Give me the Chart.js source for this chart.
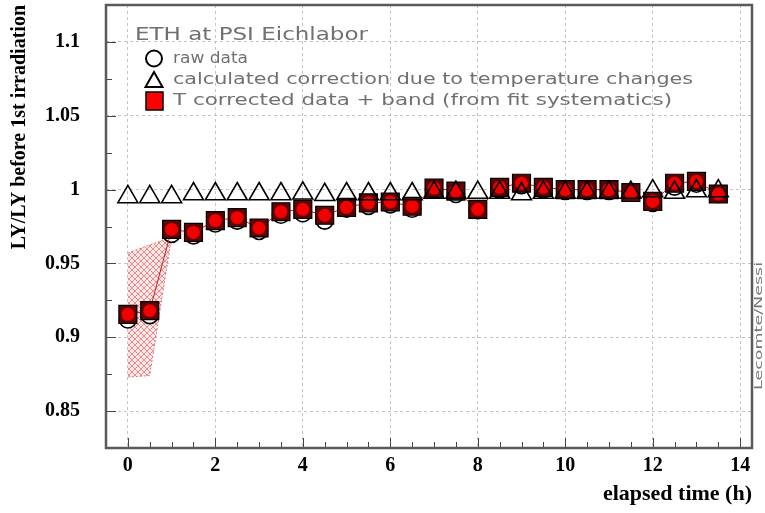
<!DOCTYPE html>
<html><head><meta charset="utf-8">
<script src="https://cdn.jsdelivr.net/npm/chart.js@4/dist/chart.umd.min.js"></script>
<style>html,body{margin:0;padding:0;background:#fff;}canvas{display:block;}</style>
</head><body>
<canvas id="c" width="765" height="513"></canvas>
<script>
// ---- data ----
const timeH = [0,0.5,1,1.5,2,2.5,3,3.5,4,4.5,5,5.5,6,6.5,7,7.5,8,8.5,9,9.5,10,10.5,11,11.5,12,12.5,13,13.5];
const rawData = [0.912,0.915,0.970,0.969,0.977,0.979,0.972,0.983,0.984,0.979,0.987,0.989,0.990,0.987,1.000,0.997,0.986,1.000,1.003,1.000,0.999,0.999,0.999,0.998,0.991,1.002,1.004,0.997];
const tempCorrection = [0.995,0.995,0.995,0.997,0.997,0.997,0.997,0.997,0.9975,0.9965,0.997,0.997,0.997,0.997,0.998,0.998,0.998,0.998,0.997,0.998,0.998,0.998,0.998,0.998,0.999,0.998,0.999,0.999];
const correctedData = [0.9155,0.918,0.973,0.971,0.979,0.981,0.974,0.985,0.9866,0.9826,0.988,0.991,0.9916,0.9887,1.001,0.999,0.9866,1.0015,1.0043,1.0015,1.000,1.000,1.000,0.998,0.992,1.0043,1.0056,0.997];
const bandTime = [0,0.5,1];
const bandUpper = [0.957,0.9625,0.968];
const bandLower = [0.873,0.874,0.968];
const xTicks = [0,2,4,6,8,10,12,14];
const yTicks = [0.85,0.9,0.95,1,1.05,1.1];
const legendTitle = 'ETH at PSI Eichlabor';
const legendItems = ['raw data','calculated correction due to temperature changes','T corrected data + band (from fit systematics)'];

function pts(xs, ys){ return xs.map((x,i)=>({x:x,y:ys[i]})); }

function hatch(){
  const c=document.createElement('canvas'); c.width=c.height=6;
  const g=c.getContext('2d');
  g.fillStyle='#fce6e6'; g.fillRect(0,0,6,6);
  g.strokeStyle='rgba(220,90,90,0.7)'; g.lineWidth=0.9;
  g.beginPath(); g.moveTo(0,0); g.lineTo(6,6); g.moveTo(6,0); g.lineTo(0,6); g.stroke();
  return g.createPattern(c,'repeat');
}

function stretchText(ctx, text, x, y, width){
  const w = ctx.measureText(text).width;
  ctx.save(); ctx.translate(x,y); ctx.scale(width/w,1); ctx.fillText(text,0,0); ctx.restore();
}

const decor = {
  id:'decor',
  beforeDraw(chart){
    const c=chart.ctx; c.save(); c.fillStyle='#fff'; c.fillRect(0,0,chart.width,chart.height); c.restore();
  },
  afterDraw(chart){
    const c=chart.ctx, a=chart.chartArea, xs=chart.scales.x, ys=chart.scales.y;
    c.save();
    // inner tick marks
    c.strokeStyle='#444'; c.lineWidth=1;
    c.beginPath();
    for(let k=0;k<=28;k++){
      const v=k*0.5, px=Math.round(xs.getPixelForValue(v))+0.5, L=(k%4===0)?10:6;
      c.moveTo(px,a.bottom); c.lineTo(px,a.bottom-L);
    }
    for(let k=0;k<=11;k++){
      const v=0.85+k*0.025, py=Math.round(ys.getPixelForValue(v))+0.5, L=(k%2===0)?10:6;
      c.moveTo(a.left,py); c.lineTo(a.left+L,py);
    }
    c.stroke();
    // frame
    c.strokeStyle='#5a5a5a'; c.lineWidth=2.5;
    c.strokeRect(a.left,a.top,a.right-a.left,a.bottom-a.top);
    // legend
    c.fillStyle='#707070'; c.textBaseline='alphabetic'; c.textAlign='left';
    c.font='18px "DejaVu Sans"';
    stretchText(c, legendTitle, 135, 40, 233);
    c.font='16px "DejaVu Sans"';
    stretchText(c, legendItems[0], 173, 63, 75);
    stretchText(c, legendItems[1], 173, 84, 520);
    stretchText(c, legendItems[2], 173, 105, 499);
    c.strokeStyle='#000'; c.lineWidth=2;
    c.beginPath(); c.arc(154,58.5,8,0,Math.PI*2); c.stroke();
    c.beginPath(); c.moveTo(154,72); c.lineTo(145.5,87); c.lineTo(162.5,87); c.closePath(); c.stroke();
    c.fillStyle='#ff0000'; c.fillRect(146,92,17,18);
    c.lineWidth=1.5; c.strokeRect(146,92,17,18);
    // author tag
    c.fillStyle='#777'; c.font='11px "DejaVu Sans"';
    c.translate(762,390); c.rotate(-Math.PI/2);
    stretchText(c,'Lecomte/Nessi',0,0,128);
    c.restore();
  }
};

const tickFont = {family:'"Liberation Serif"', weight:'bold', size:20};
const bandBorder = 'rgba(200,80,80,0.7)';

new Chart(document.getElementById('c').getContext('2d'), {
  type:'scatter',
  data:{datasets:[
    {label:'raw data', data:pts(timeH,rawData), pointStyle:'circle', pointRadius:8.5, pointHoverRadius:8.5,
     pointBackgroundColor:'#ffffff', pointBorderColor:'#000', pointBorderWidth:1.6, showLine:false, order:6},
    {label:'band upper', data:pts(bandTime,bandUpper), pointRadius:0, showLine:true, borderColor:bandBorder,
     borderWidth:1, borderDash:[2,2], fill:false, order:7},
    {label:'band lower', data:pts(bandTime,bandLower), pointRadius:0, showLine:true, borderColor:bandBorder,
     borderWidth:1, borderDash:[2,2], fill:'-1', backgroundColor:hatch(), order:7},
    {label:'T corrected data', data:pts(timeH,correctedData), pointStyle:'rect', pointRadius:12.7, pointHoverRadius:12.7,
     pointBackgroundColor:'#5c0505', pointBorderColor:'#000', pointBorderWidth:1.2, showLine:true,
     borderColor:'#cc2020', borderWidth:1, order:4},
    {label:'T corrected dots', data:pts(timeH,correctedData), pointStyle:'circle', pointRadius:6.5, pointHoverRadius:6.5,
     pointBackgroundColor:'#f20000', pointBorderWidth:0, showLine:false, order:3},
    {label:'correction', data:pts(timeH,tempCorrection), pointStyle:'triangle', pointRadius:11.5, pointHoverRadius:11.5,
     pointBackgroundColor:'rgba(0,0,0,0)', pointBorderColor:'#000', pointBorderWidth:1.6, showLine:false, order:2}
  ]},
  options:{
    responsive:false, animation:false, devicePixelRatio:1,
    layout:{autoPadding:false, padding:{top:5,right:13,left:0,bottom:0}},
    plugins:{legend:{display:false}, tooltip:{enabled:false}},
    elements:{line:{tension:0}},
    scales:{
      x:{type:'linear', min:-0.5, max:14.27,
        afterBuildTicks:s=>{s.ticks=xTicks.map(v=>({value:v}));},
        afterFit:s=>{s.height=65; s.paddingLeft=0; s.paddingRight=0;},
        grid:{color:'#c4c4c4', lineWidth:1, drawTicks:false},
        border:{display:false, dash:[3,3]},
        ticks:{font:tickFont, color:'#000', padding:6, maxRotation:0, autoSkip:false, callback:v=>String(v)},
        title:{display:true, text:'elapsed time (h)', align:'end', font:{family:'"Liberation Serif"', weight:'bold', size:22}, color:'#000', padding:{top:0,bottom:5}}
      },
      y:{type:'linear', min:0.825, max:1.125,
        afterBuildTicks:s=>{s.ticks=yTicks.map(v=>({value:v}));},
        afterFit:s=>{s.width=106; s.paddingTop=0; s.paddingBottom=0;},
        grid:{color:'#c4c4c4', lineWidth:1, drawTicks:false},
        border:{display:false, dash:[3,3]},
        ticks:{font:tickFont, color:'#000', padding:26, autoSkip:false, callback:v=>String(v)},
        title:{display:true, text:'LY/LY before 1st irradiation', align:'end', font:{family:'"Liberation Serif"', weight:'bold', size:20}, color:'#000', padding:{top:8,bottom:0}}
      }
    }
  },
  plugins:[decor]
});
</script>
</body></html>
